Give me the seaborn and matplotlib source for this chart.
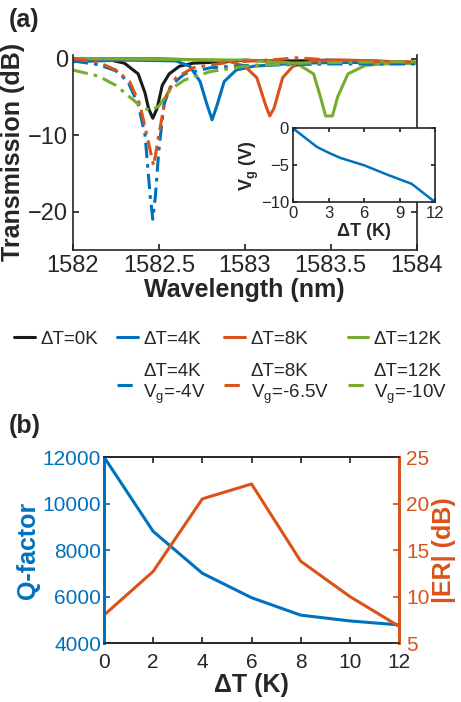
import numpy as np
import pandas as pd
import seaborn as sns
import matplotlib.pyplot as plt

# ---- data ----
# (a) transmission spectra, wavelength (nm) / transmission (dB)
wl_0K = [1582.0, 1582.2, 1582.3, 1582.38, 1582.42, 1582.44, 1582.465, 1582.49, 1582.52, 1582.56,
         1582.62, 1582.7, 1582.9, 1583.0, 1583.1, 1583.3, 1583.5, 1583.7, 1584.0]
tr_0K = [0.0, -0.1, -0.6, -2.0, -4.5, -6.5, -7.8, -6.5, -3.5, -2.0,
         -1.0, -0.6, -0.4, -0.2, -0.3, -0.3, -0.2, -0.3, -0.5]

wl_4K = [1582.0, 1582.3, 1582.6, 1582.68, 1582.74, 1582.78, 1582.81, 1582.84, 1582.88, 1582.95,
         1583.05, 1583.3, 1583.6, 1584.0]
tr_4K = [-0.4, -0.2, -0.3, -1.0, -3.0, -6.0, -8.0, -6.0, -3.0, -1.5,
         -1.0, -0.6, -0.5, -0.6]

wl_8K = [1582.0, 1582.5, 1582.9, 1583.0, 1583.07, 1583.12, 1583.145, 1583.17, 1583.22, 1583.28,
         1583.4, 1583.6, 1584.0]
tr_8K = [0.0, 0.0, -0.3, -1.0, -2.5, -6.0, -7.5, -6.5, -2.5, -1.0,
         -0.3, -0.2, -0.5]

wl_12K = [1582.0, 1583.0, 1583.3, 1583.4, 1583.44, 1583.47, 1583.51, 1583.54, 1583.6, 1583.7,
          1583.8, 1584.0]
tr_12K = [0.0, -0.2, -0.6, -2.0, -5.0, -7.5, -7.5, -5.0, -2.0, -0.9,
          -0.7, -0.6]

wl_4K_v = [1582.0, 1582.15, 1582.25, 1582.32, 1582.38, 1582.42, 1582.45, 1582.465, 1582.48, 1582.5,
           1582.53, 1582.57, 1582.65, 1582.8, 1583.0, 1583.5, 1584.0]
tr_4K_v = [-0.3, -0.8, -1.6, -3.0, -6.0, -10.0, -18.0, -21.0, -18.0, -12.0,
           -6.0, -3.5, -2.0, -1.2, -0.9, -0.7, -0.7]

wl_8K_v = [1582.0, 1582.15, 1582.25, 1582.33, 1582.39, 1582.43, 1582.47, 1582.5, 1582.54, 1582.6,
           1582.7, 1582.9, 1583.2, 1583.3, 1583.5, 1584.0]
tr_8K_v = [0.0, -0.5, -1.5, -3.0, -6.0, -10.0, -14.0, -10.0, -5.0, -2.5,
           -1.2, -0.5, -0.1, 0.1, -0.2, -0.5]

wl_12K_v = [1582.0, 1582.15, 1582.25, 1582.33, 1582.4, 1582.45, 1582.5, 1582.57, 1582.65, 1582.8,
            1583.0, 1583.3, 1583.6, 1584.0]
tr_12K_v = [-1.5, -2.3, -3.5, -5.0, -6.3, -6.8, -6.2, -4.0, -2.8, -1.7,
            -1.0, -0.6, -0.5, -0.4]

# inset: gate voltage vs temperature change
inset_dT = [0, 2, 3, 4, 6, 8, 10, 12]
inset_vg = [0, -2.5, -3.3, -4.0, -5.0, -6.3, -7.5, -10.0]

# (b) Q-factor and extinction ratio
dT = [0, 2, 4, 6, 8, 10, 12]
q_factor = [12000, 8800, 7000, 5950, 5200, 4950, 4780]
er_db = [8.0, 12.7, 20.5, 22.1, 13.8, 10.0, 6.8]

BLUE = '#0072BD'
ORANGE = '#D95319'
GREEN = '#77AC30'
VG = '$\\mathregular{V_g}$'

sns.set_theme(style='ticks')
plt.rcParams['font.family'] = ['Liberation Sans', 'DejaVu Sans']
plt.rcParams['xtick.direction'] = 'in'
plt.rcParams['ytick.direction'] = 'in'
plt.rcParams['axes.linewidth'] = 1.2

fig = plt.figure(figsize=(4.61, 7.02), dpi=100)

# ---- panel (a) ----
ax = fig.add_axes([0.158, 0.644, 0.746, 0.278])
series = [
    (wl_0K, tr_0K, 'k', '-', 'ΔT=0K'),
    (wl_4K, tr_4K, BLUE, '-', 'ΔT=4K'),
    (wl_8K, tr_8K, ORANGE, '-', 'ΔT=8K'),
    (wl_12K, tr_12K, GREEN, '-', 'ΔT=12K'),
    (wl_4K_v, tr_4K_v, BLUE, (0, (5, 2, 1.2, 2)), 'ΔT=4K\n' + VG + '=-4V'),
    (wl_8K_v, tr_8K_v, ORANGE, (0, (5, 2, 1.2, 2)), 'ΔT=8K\n' + VG + '=-6.5V'),
    (wl_12K_v, tr_12K_v, GREEN, (0, (5, 2, 1.2, 2)), 'ΔT=12K\n' + VG + '=-10V'),
]
handles = {}
for x, y, c, ls, lab in series:
    df = pd.DataFrame({'wl': x, 'tr': y})
    sns.lineplot(data=df, x='wl', y='tr', color=c, linestyle=ls, lw=2.2,
                 estimator=None, sort=False, ax=ax)
    handles[lab] = ax.lines[-1]

ax.set_xlim(1582, 1584)
ax.set_ylim(-25, 0.5)
ax.set_xticks([1582, 1582.5, 1583, 1583.5, 1584])
ax.set_xticklabels(['1582', '1582.5', '1583', '1583.5', '1584'])
ax.set_yticks([0, -10, -20])
ax.tick_params(labelsize=17, top=False, right=True, length=4)
ax.set_xlabel('Wavelength (nm)', fontsize=18, fontweight='bold', labelpad=1)
ax.set_ylabel('Transmission (dB)', fontsize=18, fontweight='bold', labelpad=2)
for s in ax.spines.values():
    s.set_color('#262626')
ax.spines['top'].set_visible(False)
fig.text(0.02, 0.972, '(a)', fontsize=18, fontweight='bold', va='center')

# inset
axi = fig.add_axes([0.636, 0.712, 0.308, 0.105])
sns.lineplot(x=inset_dT, y=inset_vg, color=BLUE, lw=1.8, estimator=None, ax=axi)
axi.set_xlim(0, 12)
axi.set_ylim(-10, 0)
axi.set_xticks([0, 3, 6, 9, 12])
axi.set_yticks([0, -5, -10])
axi.tick_params(labelsize=12, top=True, right=True, length=3, pad=3)
axi.set_xlabel('ΔT (K)', fontsize=13, fontweight='bold', labelpad=1)
axi.set_ylabel(VG + ' (V)', fontsize=13, fontweight='bold', labelpad=0)
for s in axi.spines.values():
    s.set_color('#262626')

# legend between panels
blank, = ax.plot([], [], color='none')
order = ['ΔT=0K', None, 'ΔT=4K', 'ΔT=4K\n' + VG + '=-4V',
         'ΔT=8K', 'ΔT=8K\n' + VG + '=-6.5V',
         'ΔT=12K', 'ΔT=12K\n' + VG + '=-10V']
leg_h = [handles[k] if k else blank for k in order]
leg_l = [k if k else ' ' for k in order]
leg = fig.legend(leg_h, leg_l, ncol=4, loc='center', bbox_to_anchor=(0.5, 0.475),
                 frameon=False, fontsize=13.5, handlelength=1.1, handletextpad=0.3,
                 columnspacing=1.0, labelspacing=0.8)
for t in leg.get_texts():
    t.set_multialignment('left')

# ---- panel (b) ----
axb = fig.add_axes([0.2256, 0.084, 0.64, 0.265])
sns.lineplot(x=dT, y=q_factor, color=BLUE, lw=2.2, estimator=None, ax=axb)
axb.set_xlim(0, 12)
axb.set_ylim(4000, 12000)
axb.set_xticks(range(0, 13, 2))
axb.set_yticks(range(4000, 12001, 2000))
axb.tick_params(axis='x', labelsize=15, top=True, length=4, pad=7)
axb.tick_params(axis='y', labelsize=15, colors=BLUE, length=4, pad=2)
axb.set_xlabel('ΔT (K)', fontsize=18, fontweight='bold', labelpad=1)
axb.set_ylabel('Q-factor', fontsize=18, fontweight='bold', color=BLUE, labelpad=2)

axr = axb.twinx()
sns.lineplot(x=dT, y=er_db, color=ORANGE, lw=2.2, estimator=None, ax=axr)
axr.set_ylim(5, 25)
axr.set_yticks([5, 10, 15, 20, 25])
axr.tick_params(axis='y', labelsize=15, colors=ORANGE, length=4, direction='in', pad=5)
axr.set_ylabel('|ER| (dB)', fontsize=18, fontweight='bold', color=ORANGE, labelpad=2)

for a in (axb, axr):
    a.spines['top'].set_color('#262626')
    a.spines['bottom'].set_color('#262626')
    a.spines['left'].set_color(BLUE)
    a.spines['right'].set_color(ORANGE)
    a.spines['left'].set_linewidth(2)
    a.spines['right'].set_linewidth(2)
fig.text(0.02, 0.393, '(b)', fontsize=18, fontweight='bold', va='center')

fig.savefig('out.png', dpi=100)
